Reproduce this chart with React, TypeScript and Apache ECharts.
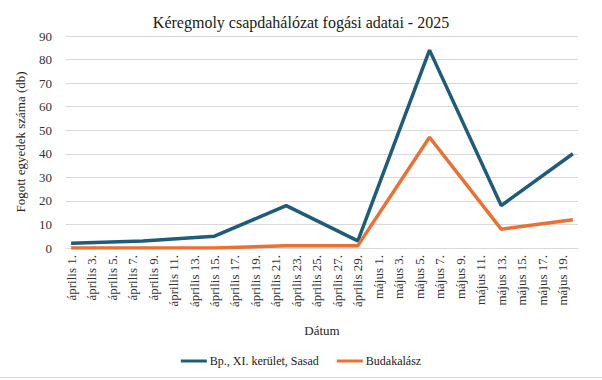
import React, { useEffect, useRef } from "react";
import * as echarts from "echarts";

const dayLabels: string[] = [
  "április 1.", "április 2.", "április 3.", "április 4.", "április 5.", "április 6.", "április 7.", "április 8.", "április 9.", "április 10.",
  "április 11.", "április 12.", "április 13.", "április 14.", "április 15.", "április 16.", "április 17.", "április 18.", "április 19.", "április 20.",
  "április 21.", "április 22.", "április 23.", "április 24.", "április 25.", "április 26.", "április 27.", "április 28.", "április 29.", "április 30.",
  "május 1.", "május 2.", "május 3.", "május 4.", "május 5.", "május 6.", "május 7.", "május 8.", "május 9.", "május 10.",
  "május 11.", "május 12.", "május 13.", "május 14.", "május 15.", "május 16.", "május 17.", "május 18.", "május 19.", "május 20.",
];

const sampleDates: string[] = [
  "április 1.", "április 8.", "április 15.", "április 22.", "április 29.", "május 6.", "május 13.", "május 20.",
];
const sasadValues: number[] = [2, 3, 5, 18, 3, 84, 18, 40];
const budakalaszValues: number[] = [0, 0, 0, 1, 1, 47, 8, 12];

const seriesNames = ["Bp., XI. kerület, Sasad", "Budakalász"];
const yTicks = { min: 0, max: 90, interval: 10 };

const FONT = "Liberation Serif";

export default function App() {
  const ref = useRef<HTMLDivElement>(null);
  useEffect(() => {
    document.body.style.margin = "0";
    if (!ref.current) return;
    const chart = echarts.init(ref.current, undefined, { renderer: "svg" });
    chart.setOption({
      animation: false,
      backgroundColor: "#ffffff",
      textStyle: { fontFamily: FONT, fontWeight: "normal" },
      title: {
        text: "Kéregmoly csapdahálózat fogási adatai - 2025",
        left: "center",
        top: 9,
        textStyle: { fontFamily: FONT, fontSize: 16, fontWeight: "normal", color: "#1a1a1a" },
      },
      grid: { left: 66, right: 24, top: 36, bottom: 132, containLabel: false },
      legend: {
        left: "center",
        top: 350,
        icon: "rect",
        itemWidth: 26,
        itemHeight: 3,
        itemGap: 18,
        textStyle: {
          fontFamily: FONT,
          fontWeight: "normal",
          fontSize: 12,
          color: "#1a1a1a",
          padding: [0, 0, 0, -2],
        },
        data: seriesNames,
      },
      xAxis: {
        type: "category",
        data: dayLabels,
        boundaryGap: true,
        name: "Dátum",
        nameLocation: "middle",
        nameGap: 76,
        nameTextStyle: { fontFamily: FONT, fontSize: 13, color: "#262626", fontWeight: "normal" },
        axisLine: { lineStyle: { color: "#d9d9d9" } },
        axisTick: { interval: 1, length: 4, lineStyle: { color: "#d9d9d9" } },
        axisLabel: {
          interval: 1,
          rotate: 90,
          margin: 7,
          fontFamily: FONT,
          fontWeight: "normal",
          fontSize: 13,
          color: "#333333",
        },
        splitLine: { show: false },
      },
      yAxis: {
        type: "value",
        min: yTicks.min,
        max: yTicks.max,
        interval: yTicks.interval,
        name: "Fogott egyedek száma (db)",
        nameLocation: "middle",
        nameGap: 39,
        nameTextStyle: { fontFamily: FONT, fontSize: 13, color: "#262626", fontWeight: "normal" },
        axisLine: { show: false },
        axisTick: { show: false },
        axisLabel: {
          fontFamily: FONT,
          fontWeight: "normal",
          fontSize: 13,
          color: "#333333",
          margin: 14,
        },
        splitLine: { lineStyle: { color: "#d9d9d9", width: 1 } },
      },
      series: [
        {
          name: seriesNames[0],
          type: "line",
          data: sampleDates.map((d, i) => [d, sasadValues[i]]),
          showSymbol: false,
          lineStyle: { width: 3.5, color: "#1F5C7A" },
          itemStyle: { color: "#1F5C7A" },
        },
        {
          name: seriesNames[1],
          type: "line",
          data: sampleDates.map((d, i) => [d, budakalaszValues[i]]),
          showSymbol: false,
          lineStyle: { width: 3.5, color: "#E97132" },
          itemStyle: { color: "#E97132" },
        },
      ],
      graphic: [
        {
          type: "line",
          shape: { x1: 0, y1: 377.5, x2: 602, y2: 377.5 },
          style: { stroke: "#d9d9d9", lineWidth: 1 },
        },
      ],
    });
    return () => chart.dispose();
  }, []);
  return <div ref={ref} style={{ width: 602, height: 380 }} />;
}
